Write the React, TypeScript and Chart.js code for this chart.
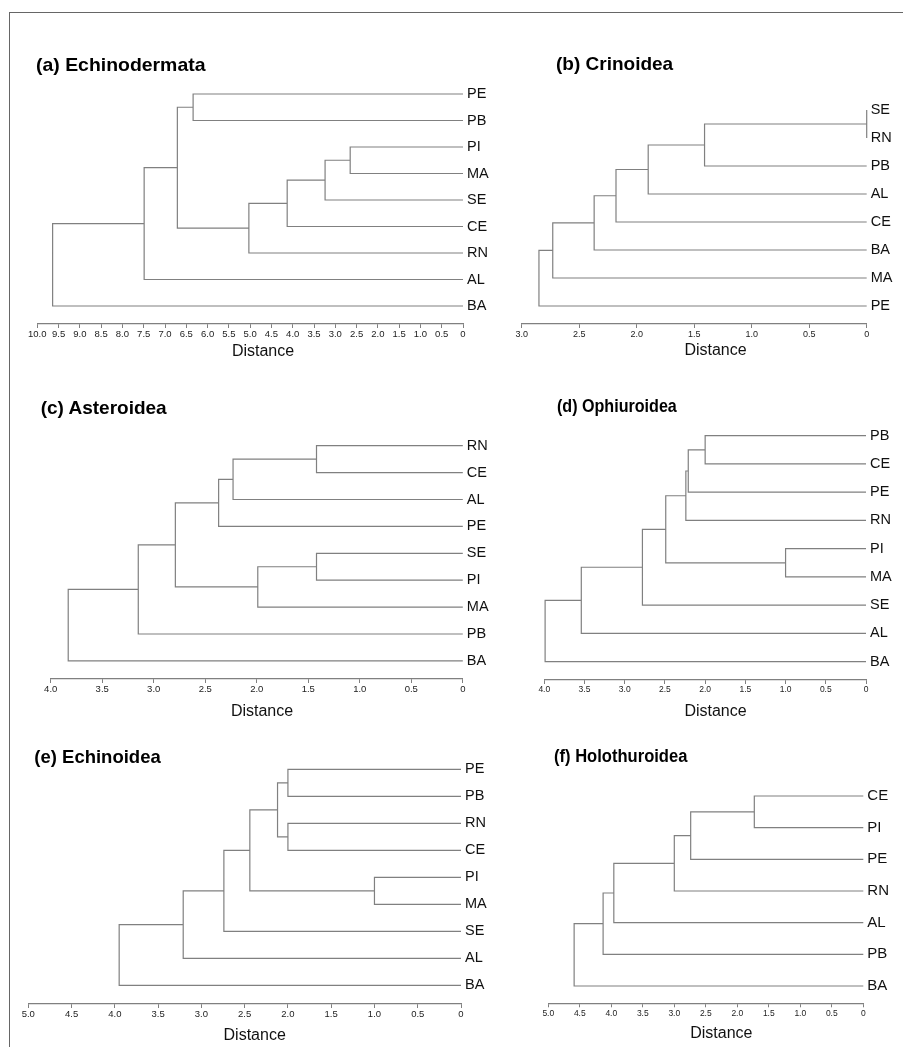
import React, { useEffect, useRef } from 'react';
import { Chart, registerables } from 'chart.js';

Chart.register(...registerables);

const FONT = "'Liberation Sans', Arial, Helvetica, sans-serif";
const LINE = '#808080';

type Ref = string | number;
type Merge = [Ref, Ref, number];

// ---- (a) Echinodermata ----
const leavesA = ['PE', 'PB', 'PI', 'MA', 'SE', 'CE', 'RN', 'AL', 'BA'];
const mergesA: Merge[] = [
  ['PE', 'PB', 6.34],
  ['PI', 'MA', 2.65],
  [1, 'SE', 3.24],
  [2, 'CE', 4.13],
  [3, 'RN', 5.03],
  [0, 4, 6.71],
  [5, 'AL', 7.49],
  [6, 'BA', 9.64],
];
const xMaxA = 10;

// ---- (b) Crinoidea ----
const leavesB = ['SE', 'RN', 'PB', 'AL', 'CE', 'BA', 'MA', 'PE'];
const mergesB: Merge[] = [
  ['SE', 'RN', 0],
  [0, 'PB', 1.41],
  [1, 'AL', 1.9],
  [2, 'CE', 2.18],
  [3, 'BA', 2.37],
  [4, 'MA', 2.73],
  [5, 'PE', 2.85],
];
const xMaxB = 3;

// ---- (c) Asteroidea ----
const leavesC = ['RN', 'CE', 'AL', 'PE', 'SE', 'PI', 'MA', 'PB', 'BA'];
const mergesC: Merge[] = [
  ['RN', 'CE', 1.42],
  [0, 'AL', 2.23],
  [1, 'PE', 2.37],
  ['SE', 'PI', 1.42],
  [3, 'MA', 1.99],
  [2, 4, 2.79],
  [5, 'PB', 3.15],
  [6, 'BA', 3.83],
];
const xMaxC = 4;

// ---- (d) Ophiuroidea ----
const leavesD = ['PB', 'CE', 'PE', 'RN', 'PI', 'MA', 'SE', 'AL', 'BA'];
const mergesD: Merge[] = [
  ['PB', 'CE', 2.0],
  [0, 'PE', 2.21],
  [1, 'RN', 2.24],
  ['PI', 'MA', 1.0],
  [2, 3, 2.49],
  [4, 'SE', 2.78],
  [5, 'AL', 3.54],
  [6, 'BA', 3.99],
];
const xMaxD = 4;

// ---- (e) Echinoidea ----
const leavesE = ['PE', 'PB', 'RN', 'CE', 'PI', 'MA', 'SE', 'AL', 'BA'];
const mergesE: Merge[] = [
  ['PE', 'PB', 2.0],
  ['RN', 'CE', 2.0],
  [0, 1, 2.12],
  ['PI', 'MA', 1.0],
  [2, 3, 2.44],
  [4, 'SE', 2.74],
  [5, 'AL', 3.21],
  [6, 'BA', 3.95],
];
const xMaxE = 5;

// ---- (f) Holothuroidea ----
const leavesF = ['CE', 'PI', 'PE', 'RN', 'AL', 'PB', 'BA'];
const mergesF: Merge[] = [
  ['CE', 'PI', 1.73],
  [0, 'PE', 2.74],
  [1, 'RN', 3.0],
  [2, 'AL', 3.96],
  [3, 'PB', 4.13],
  [4, 'BA', 4.59],
];
const xMaxF = 5;

const titles = [
  '(a) Echinodermata',
  '(b) Crinoidea',
  '(c) Asteroidea',
  '(d) Ophiuroidea',
  '(e) Echinoidea',
  '(f) Holothuroidea',
];

interface Panel {
  title: string;
  leaves: string[];
  merges: Merge[];
  xMax: number;
  box: [number, number, number, number]; // canvas left, top, width, height
  left: number; // pixel of xMax
  right: number; // pixel of 0
  y0: number; // pixel of first leaf
  step: number; // pixels between leaves
  axisY: number; // pixel of axis line
  tickSize: number;
  labelSize: number;
  titlePos: [number, number, number, number]; // left, centerY, fontSize, scaleX
  distPos: [number, number]; // centerX, centerY
}

const panels: Panel[] = [
  {
    title: titles[0], leaves: leavesA, merges: mergesA, xMax: xMaxA,
    box: [0, 0, 505, 350], left: 37.3, right: 463, y0: 94, step: 26.5, axisY: 324,
    tickSize: 9.5, labelSize: 14.5, titlePos: [36, 65.5, 18.5, 1.05], distPos: [263, 351],
  },
  {
    title: titles[1], leaves: leavesB, merges: mergesB, xMax: xMaxB,
    box: [500, 0, 403, 350], left: 521.7, right: 866.7, y0: 110, step: 28, axisY: 324,
    tickSize: 9, labelSize: 14.5, titlePos: [556, 63, 19, 1.0], distPos: [715.5, 350],
  },
  {
    title: titles[2], leaves: leavesC, merges: mergesC, xMax: xMaxC,
    box: [0, 350, 505, 355], left: 50.7, right: 462.8, y0: 445.7, step: 26.9, axisY: 679,
    tickSize: 9.5, labelSize: 14.5, titlePos: [40.7, 407.5, 19, 1.0], distPos: [262, 711],
  },
  {
    title: titles[3], leaves: leavesD, merges: mergesD, xMax: xMaxD,
    box: [500, 350, 403, 355], left: 544.3, right: 866, y0: 435.7, step: 28.25, axisY: 680,
    tickSize: 8.5, labelSize: 14.5, titlePos: [556.7, 405.7, 18.5, 0.87], distPos: [715.5, 711],
  },
  {
    title: titles[4], leaves: leavesE, merges: mergesE, xMax: xMaxE,
    box: [0, 705, 505, 342], left: 28.3, right: 461, y0: 769.3, step: 27, axisY: 1004,
    tickSize: 9.5, labelSize: 14.5, titlePos: [34.3, 756.7, 18.5, 1.0], distPos: [254.7, 1035],
  },
  {
    title: titles[5], leaves: leavesF, merges: mergesF, xMax: xMaxF,
    box: [500, 705, 403, 342], left: 548.3, right: 863.3, y0: 796, step: 31.67, axisY: 1003.3,
    tickSize: 8.5, labelSize: 15, titlePos: [554.3, 756, 18, 0.92], distPos: [721.3, 1032.5],
  },
];

function buildSegments(leaves: string[], merges: Merge[]) {
  const nodeX: number[] = [];
  const nodeY: number[] = [];
  const pos = (r: Ref) =>
    typeof r === 'number' ? { x: nodeX[r], y: nodeY[r] } : { x: 0, y: leaves.indexOf(r) };
  const pts: { x: number; y: number | null }[] = [];
  merges.forEach(([a, b, h], i) => {
    const pa = pos(a);
    const pb = pos(b);
    nodeX[i] = h;
    nodeY[i] = (pa.y + pb.y) / 2;
    pts.push(
      { x: pa.x, y: pa.y },
      { x: h, y: pa.y },
      { x: h, y: pb.y },
      { x: pb.x, y: pb.y },
      { x: h, y: null },
    );
  });
  return pts;
}

function Dendrogram({ p }: { p: Panel }) {
  const ref = useRef<HTMLCanvasElement>(null);
  const [bx, by, bw, bh] = p.box;
  useEffect(() => {
    if (!ref.current) return;
    const hx = by + bh - p.axisY;
    const wy = bx + bw - p.right;
    const chart = new Chart(ref.current, {
      type: 'line',
      data: {
        datasets: [
          {
            data: buildSegments(p.leaves, p.merges) as any,
            borderColor: LINE,
            borderWidth: 1.2,
            pointRadius: 0,
            fill: false,
            tension: 0,
            spanGaps: false,
            clip: false as any,
          },
        ],
      },
      options: {
        animation: false,
        responsive: false,
        events: [],
        layout: {
          padding: {
            left: p.left - bx,
            top: p.y0 - 0.6 * p.step - by,
            right: 0,
            bottom: 0,
          },
        },
        plugins: {
          legend: { display: false },
          tooltip: { enabled: false },
          title: { display: false },
        },
        scales: {
          x: {
            type: 'linear',
            position: 'bottom',
            reverse: true,
            min: 0,
            max: p.xMax,
            ticks: {
              stepSize: 0.5,
              autoSkip: false,
              maxRotation: 0,
              minRotation: 0,
              padding: 1,
              color: '#222',
              font: { family: FONT, size: p.tickSize },
              callback: (v: any) => (Number(v) === 0 ? '0' : Number(v).toFixed(1)),
            },
            grid: {
              display: true,
              drawOnChartArea: false,
              drawTicks: true,
              tickLength: 4,
              color: LINE,
              lineWidth: 1,
            },
            border: { display: true, color: LINE, width: 1.2 },
            afterFit: (s: any) => {
              s.height = hx;
              s.paddingLeft = 0;
              s.paddingRight = 0;
            },
          } as any,
          y: {
            type: 'linear',
            position: 'right',
            reverse: true,
            min: -0.6,
            max: (p.axisY - p.y0) / p.step,
            afterBuildTicks: (s: any) => {
              s.ticks = p.leaves.map((_, i) => ({ value: i }));
            },
            ticks: {
              autoSkip: false,
              padding: 4,
              color: '#111',
              font: { family: FONT, size: p.labelSize },
              callback: (v: any) => p.leaves[Number(v)] ?? '',
            },
            grid: { display: false, drawTicks: false },
            border: { display: false },
            afterFit: (s: any) => {
              s.width = wy;
              s.paddingTop = 0;
              s.paddingBottom = 0;
            },
          } as any,
        },
      },
    });
    return () => chart.destroy();
  }, [p]);

  const [tx, ty, ts, tsx] = p.titlePos;
  return (
    <>
      <canvas
        ref={ref}
        width={bw}
        height={bh}
        style={{ position: 'absolute', left: bx, top: by, width: bw, height: bh }}
      />
      <div
        style={{
          position: 'absolute',
          left: tx,
          top: ty - 0.4885 * ts,
          font: `bold ${ts}px ${FONT}`,
          lineHeight: `${ts}px`,
          whiteSpace: 'nowrap',
          color: '#000',
          transform: `scaleX(${tsx})`,
          transformOrigin: 'left center',
        }}
      >
        {p.title}
      </div>
      <div
        style={{
          position: 'absolute',
          left: p.distPos[0],
          top: p.distPos[1] - 0.4885 * 16,
          font: `16px ${FONT}`,
          lineHeight: '16px',
          whiteSpace: 'nowrap',
          color: '#111',
          transform: 'translateX(-50%)',
        }}
      >
        Distance
      </div>
    </>
  );
}

export default function App() {
  return (
    <div
      style={{
        position: 'absolute',
        left: 0,
        top: 0,
        width: 903,
        height: 1047,
        overflow: 'hidden',
        background: '#fff',
      }}
    >
      <div
        style={{
          position: 'absolute',
          left: 8.5,
          top: 11.5,
          width: 920,
          height: 1100,
          borderTop: '1.5px solid #666',
          borderLeft: '1.5px solid #666',
          boxSizing: 'border-box',
        }}
      />
      {panels.map((p) => (
        <Dendrogram key={p.title} p={p} />
      ))}
    </div>
  );
}
